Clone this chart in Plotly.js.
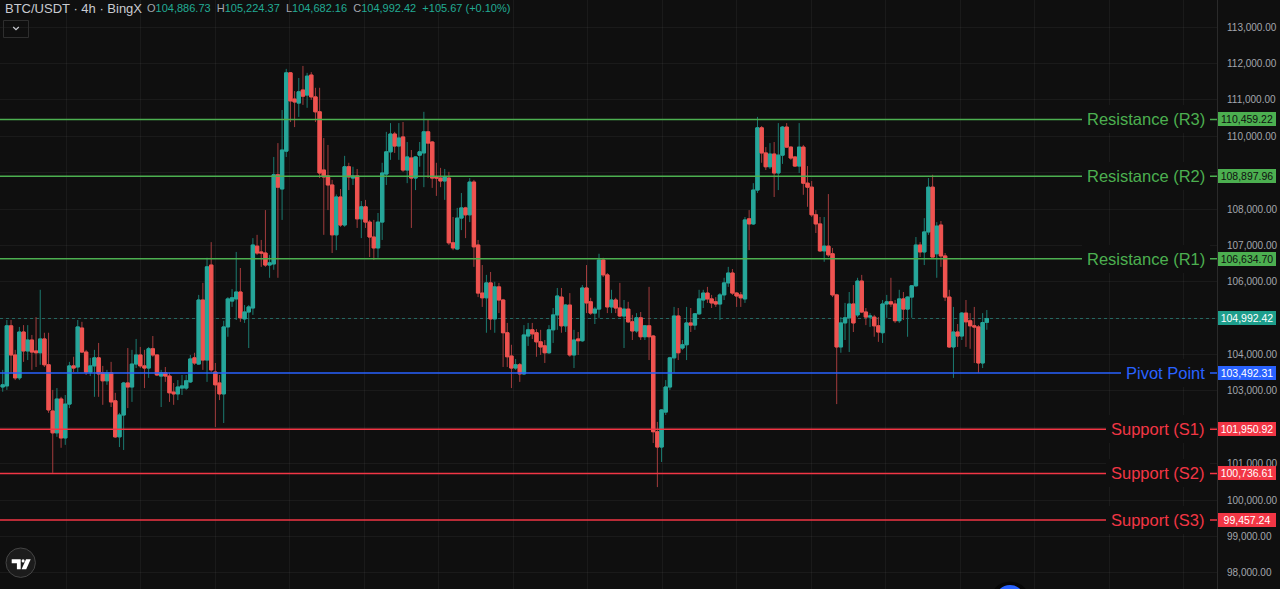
<!DOCTYPE html>
<html><head><meta charset="utf-8">
<script src="https://cdn.plot.ly/plotly-3.0.1.min.js"></script>
<style>html,body{margin:0;padding:0;background:#0f0f0f;overflow:hidden}#chart{width:1280px;height:589px}</style>
</head><body><div id="chart"></div>
<script>
// ---- data (BTC/USDT 4h candles) ----
const openP = [
103110,103140,104790,103990,103360,104620,104100,104400,104100,104050,
104430,103720,102450,101850,102780,101710,102640,103690,103660,104730,
104070,103520,103690,103910,103500,103280,103500,102730,101740,102340,
103220,103110,103740,103990,103690,103630,104160,103990,103410,103500,
103410,102970,102920,103080,103080,103250,103910,103740,105500,103850,
106460,103520,103220,102920,104760,105470,105530,105720,104980,105170,
105280,106980,106820,106790,106460,106490,108940,108550,109590,111740,
111020,110910,111270,111130,111680,111080,110670,109070,108910,108660,
107290,108330,107560,109160,108850,108910,107730,108060,107640,107230,
106930,107640,108960,109570,110060,109730,109980,109070,109400,108850,
109480,109540,110120,109840,108880,108850,108770,108850,107070,106900,
107750,108030,107840,108740,107010,105690,105560,105970,104980,105860,
105500,104600,103960,103630,103720,103470,104510,104680,104600,104350,
104240,104050,104680,105090,105580,104790,105360,103990,104430,104380,
105830,105450,105140,105250,106600,106190,105310,105500,105280,105060,
105250,104900,104650,105010,104490,104790,104510,101880,101460,102420,
103110,103910,105060,104180,104270,104870,104810,105120,105500,105690,
105530,105450,105390,105640,105970,106240,105690,105640,105530,107730,
107590,108520,110230,109540,109160,109510,108990,109480,110250,109700,
109430,109180,109700,108710,108600,107840,107590,106850,106980,106770,
105640,104210,104870,105010,105390,105090,106020,105170,105030,105030,
104790,104600,105390,105450,105390,104930,105530,105250,105580,105890,
107010,106820,107370,108600,106770,107560,106710,105580,104210,104620,
104510,105140,104930,104790,104760,103770,104886.73];
const highP = [
103580,104950,104950,104130,104760,104810,104810,104540,105030,105780,
104600,104600,103030,103080,102840,102890,103800,103940,104950,104900,
104130,103910,104130,104320,103690,103580,103800,102950,102400,103250,
104180,104130,104430,104210,104130,104210,104510,104000,103580,103660,
103500,103220,103300,103440,103440,103990,104050,105640,105970,106660,
107090,103770,103440,104930,105580,105800,106820,106380,105360,105360,
107200,107290,107150,107970,106740,109430,109810,110720,111850,111760,
111240,111600,111930,111740,111760,111330,111330,109950,109760,108800,
108400,108550,109460,109270,109160,109100,108220,108250,107700,107700,
107890,109270,110120,110360,110120,110360,110390,109840,109620,109450,
109840,110670,110450,109870,109270,109130,109100,109020,107780,108030,
108440,108060,108850,108800,107150,106460,106190,106270,106000,105970,
105530,104870,104270,103880,103770,104810,104870,104870,104700,104680,
104400,104810,105280,105830,105830,105390,105690,104680,104620,105910,
106460,105560,105310,106770,106660,106240,105780,105560,105970,105500,
105450,105090,105140,105170,104800,105860,104540,102150,102500,103300,
103940,105310,105280,104400,105310,105280,105140,105780,105780,105860,
105640,105580,105690,106110,106410,106350,105720,105720,107780,107970,
108710,110530,110280,109700,109810,109840,110360,110280,110360,109720,
109440,110360,109760,109180,108770,107970,107780,107780,108410,106930,
105670,105030,105420,105720,105910,106110,106190,105280,105140,105090,
105030,105500,105640,106110,105500,105780,105720,105600,105910,107230,
107090,107750,108850,108940,107640,107670,106790,105780,105310,104840,
105170,105500,105140,105310,104810,105140,105224.37];
const lowP = [
102980,103030,103500,103300,103300,103800,103850,103580,103660,103720,
103660,102400,100750,101740,101440,101520,102530,103520,103520,104040,
103440,103410,102840,102840,102620,103170,102560,101710,101460,101380,
102530,102700,103630,103630,103080,103360,103940,103410,102560,103250,
102700,102620,102750,102890,103030,103220,103720,103720,103580,103250,
103520,102010,102750,102120,104490,105310,104950,104900,104870,104180,
105090,106740,106410,106410,106110,106330,106110,107700,109430,110390,
110250,110530,110860,110780,111000,110390,108850,107290,107970,106790,
106870,107510,107510,108520,108660,107480,107200,107480,106680,106600,
106660,107150,108660,109350,109540,109350,109020,108710,107480,108520,
109160,108600,108850,108580,108360,108600,108250,107010,106870,106870,
107420,107200,107640,106410,105580,105310,104600,104680,104600,105140,
103660,103660,103080,103580,103250,103440,104240,104430,103940,103990,
103770,104020,104320,104680,104600,104620,103940,103630,103990,104350,
105140,105090,104840,105010,106130,105140,105140,105140,105030,104180,
104870,104400,104600,104400,104400,103850,101570,100360,101050,102340,
103030,103500,103850,104130,103850,104620,104680,105090,105280,105420,
105280,105310,104950,105500,105860,105640,105310,105310,105420,106870,
107560,108440,109270,109070,109100,108330,108520,109240,109680,109350,
109160,108990,108390,108060,107780,107340,106820,106550,106680,105580,
102640,104050,104400,104070,104620,105030,105140,104810,104760,104490,
104350,104320,105010,105310,104870,104870,104950,104490,105010,105860,
106680,106460,107290,106680,106110,106410,105470,104180,103360,104210,
104400,104210,104160,103770,103500,103630,104682.16];
const closeP = [
103170,104790,103990,103360,104620,104100,104400,104070,104050,104430,
103720,102480,101850,102780,101710,102640,103690,103630,104760,104070,
103520,103690,103910,103470,103280,103500,102700,101740,102340,103220,
103110,103740,103990,103690,103630,104160,103990,103440,103500,103410,
102950,102920,103110,103140,103280,103880,103770,105500,103850,106410,
103580,103170,102920,104760,105530,105560,105720,105010,105170,105310,
107010,106790,106790,106460,106520,108940,108600,109620,111740,110970,
110940,111220,111100,111650,111080,110670,108990,108880,108660,107290,
108330,107560,109160,108880,108910,107730,108060,107640,107230,106930,
107640,108990,109570,110060,109730,109950,109070,109430,108850,109430,
109570,110120,109810,108850,108850,108770,108880,107070,106930,107750,
108030,107840,108740,106960,105690,105560,105970,104980,105860,105500,
104600,103940,103630,103720,103470,104540,104680,104570,104350,104210,
104050,104680,105090,105610,104790,105360,103990,104400,104380,105830,
105420,105140,105250,106600,106190,105310,105500,105280,105060,105250,
104900,104650,105010,104490,104790,104490,101880,101460,102480,103110,
103910,105060,104050,104270,104870,104810,105120,105530,105690,105530,
105420,105390,105640,105970,106240,105690,105610,105560,107700,107590,
108520,110230,109540,109160,109510,108990,109480,110250,109700,109400,
109180,109700,108710,108600,107840,107590,106850,106980,106740,105640,
104210,104870,105010,105390,104870,106020,105170,105030,105060,104790,
104620,105390,105450,105390,104930,105530,105250,105580,105890,107010,
106820,107370,108600,106680,107530,106710,105580,104210,104620,104510,
105140,104900,104790,104760,103770,104880,104992.42];

// price-scale ticks (labels hidden behind the level boxes are left blank)
const tickVals   = [98000,99000,100000,101000,102000,103000,104000,105000,106000,107000,108000,109000,110000,111000,112000,113000];
const tickLabels = ["98,000.00","99,000.00","100,000.00","101,000.00","","103,000.00","104,000.00","","106,000.00","107,000.00","108,000.00","","110,000.00","111,000.00","112,000.00","113,000.00"];

const levelNames  = ["Resistance (R3)","Resistance (R2)","Resistance (R1)","Pivot Point","Support (S1)","Support (S2)","Support (S3)"];
const levelValues = [110459.22, 108897.96, 106634.70, 103492.31, 101950.92, 100736.61, 99457.24];
const levelKinds  = ["r","r","r","p","s","s","s"];
const lastPrice = 104992.42;
const headerTitle = "BTC/USDT · 4h · BingX";
const ohlcLetters = ["O","H","L","C"];
const ohlcValues = [104886.73, 105224.37, 104682.16, 104992.42];
const changeAbs = 105.67, changePct = 0.10;

// ---- styling ----
const BG = "#0f0f0f";
const UP = "#26a69a", DOWN = "#ef5350";
const UPW = "#1b7a70", DOWNW = "#a23c3d";
const KC = {r:"#4caf50", p:"#2962ff", s:"#f23645"};
const KT = {r:"#0f0f0f", p:"#ffffff", s:"#ffffff"};
const FONT = "Liberation Sans, Arial, sans-serif";
const PW = 1217, PH = 589;
const px = x => x / PW, py = y => 1 - y / PH;
const fmt = v => v.toLocaleString("en-US",{minimumFractionDigits:2, maximumFractionDigits:2});

const xs = openP.map((_, i) => i + 1);
const bodyHi = openP.map((o, i) => Math.max(o, closeP[i]));
const bodyLo = openP.map((o, i) => Math.min(o, closeP[i]));

const wicks = {
  type:"candlestick", x:xs, open:openP, high:highP, low:lowP, close:closeP,
  increasing:{line:{color:UPW,width:1}, fillcolor:UPW},
  decreasing:{line:{color:DOWNW,width:1}, fillcolor:DOWNW},
  whiskerwidth:0, hoverinfo:"skip", showlegend:false
};
const bodies = {
  type:"candlestick", x:xs, open:openP, high:bodyHi, low:bodyLo, close:closeP,
  increasing:{line:{color:UP,width:1}, fillcolor:UP},
  decreasing:{line:{color:DOWN,width:1}, fillcolor:DOWN},
  whiskerwidth:0, hoverinfo:"skip", showlegend:false
};

const shapes = [];
const annotations = [];

// current price dotted line
shapes.push({type:"line", xref:"paper", x0:0, x1:1, yref:"y", y0:lastPrice, y1:lastPrice,
  line:{color:"rgba(38,166,154,0.55)", width:1, dash:"dot"}, layer:"below"});

levelValues.forEach((v, i) => {
  const c = KC[levelKinds[i]];
  shapes.push({type:"line", xref:"paper", x0:0, x1:1, yref:"y", y0:v, y1:v,
    line:{color:c, width:1.5}, layer:"above"});
  annotations.push({xref:"paper", x:px(1210), xanchor:"right", yref:"y", y:v, yanchor:"middle",
    text:levelNames[i], showarrow:false, font:{family:FONT, size:16.5, color:c},
    bgcolor:BG, borderpad:5, borderwidth:0});
  annotations.push({xref:"paper", x:1, xanchor:"left", xshift:1, yref:"y", y:v, yanchor:"middle",
    text:fmt(v), showarrow:false, font:{family:FONT, size:10.5, color:KT[levelKinds[i]]},
    bgcolor:c, width:56, height:12, borderpad:1, borderwidth:0, align:"center"});
});
annotations.push({xref:"paper", x:1, xanchor:"left", xshift:1, yref:"y", y:lastPrice, yanchor:"middle",
  text:fmt(lastPrice), showarrow:false, font:{family:FONT, size:10.5, color:"#ffffff"},
  bgcolor:"#1e9e8c", width:56, height:12, borderpad:1, borderwidth:0, align:"center"});

// header
annotations.push({xref:"paper", yref:"paper", x:px(3), y:py(8.5), xanchor:"left", yanchor:"middle",
  text:headerTitle, showarrow:false, font:{family:FONT, size:13, color:"#c9cbd1"}});
const teal = "#22ab94";
let ohlcText = ohlcLetters.map((l, i) =>
  `<span style="color:#a6a8ae">${l}</span><span style="color:${teal}">${fmt(ohlcValues[i])}</span>`).join("&nbsp;&nbsp;");
ohlcText += `&nbsp;&nbsp;<span style="color:${teal}">+${fmt(changeAbs)} (+${fmt(changePct)}%)</span>`;
annotations.push({xref:"paper", yref:"paper", x:px(145), y:py(8.5), xanchor:"left", yanchor:"middle",
  text:ohlcText, showarrow:false, font:{family:FONT, size:11, color:teal}});

// dropdown button
shapes.push({type:"rect", xref:"paper", yref:"paper", x0:px(3.5), x1:px(28.5), y0:py(20.5), y1:py(37.5),
  line:{color:"#2e2e2e", width:1}, fillcolor:"rgba(0,0,0,0)", layer:"above"});
shapes.push({type:"path", xref:"paper", yref:"paper",
  path:`M ${px(13.2)} ${py(27)} L ${px(16)} ${py(29.6)} L ${px(18.8)} ${py(27)}`,
  line:{color:"#c9cbd1", width:1.2}, layer:"above"});

// TradingView logo
shapes.push({type:"circle", xref:"paper", yref:"paper", x0:px(6), x1:px(35.4), y0:py(548), y1:py(577.4),
  fillcolor:"#1c1c1c", line:{color:"#454545", width:1}, layer:"above"});
shapes.push({type:"path", xref:"paper", yref:"paper",
  path:`M ${px(11.7)} ${py(559.3)} L ${px(20.7)} ${py(559.3)} L ${px(20.7)} ${py(569.3)} L ${px(16.9)} ${py(569.3)} L ${px(16.9)} ${py(563.2)} L ${px(11.7)} ${py(563.2)} Z`,
  fillcolor:"#ffffff", line:{width:0}, layer:"above"});
shapes.push({type:"circle", xref:"paper", yref:"paper", x0:px(21.6), x1:px(24.6), y0:py(559.3), y1:py(562.5),
  fillcolor:"#ffffff", line:{width:0}, layer:"above"});
shapes.push({type:"path", xref:"paper", yref:"paper",
  path:`M ${px(26)} ${py(559.3)} L ${px(30.7)} ${py(559.3)} L ${px(26.2)} ${py(569.3)} L ${px(21.6)} ${py(569.3)} Z`,
  fillcolor:"#ffffff", line:{width:0}, layer:"above"});

// partial blue widget circle at bottom
shapes.push({type:"circle", xref:"paper", yref:"paper", x0:px(990), x1:px(1030), y0:py(581.5), y1:py(621.5),
  fillcolor:"#060606", line:{width:0}, layer:"above"});
shapes.push({type:"circle", xref:"paper", yref:"paper", x0:px(995), x1:px(1025), y0:py(585), y1:py(615),
  fillcolor:"#2962ff", line:{width:0}, layer:"above"});

const layout = {
  width:1280, height:589,
  margin:{l:0, r:63, t:0, b:0, pad:0},
  paper_bgcolor:BG, plot_bgcolor:BG,
  showlegend:false,
  boxgap:0.2, boxgroupgap:0,
  xaxis:{range:[0.3525, 292.2], showticklabels:false, ticks:"", showgrid:true,
    gridcolor:"rgba(242,242,242,0.05)", tick0:16.2, dtick:17.87, zeroline:false, showline:false,
    rangeslider:{visible:false}, fixedrange:true},
  yaxis:{side:"right", range:[97560, 113742], tickmode:"array", tickvals:tickVals, ticktext:tickLabels,
    tickfont:{family:FONT, size:10, color:"#a3a6ad"}, ticks:"", ticklabelstandoff:7,
    showgrid:true, gridcolor:"rgba(242,242,242,0.05)", zeroline:false,
    showline:true, linecolor:"#2a2a2a", linewidth:1, fixedrange:true},
  shapes:shapes, annotations:annotations
};

Plotly.newPlot("chart", [wicks, bodies], layout, {displayModeBar:false, staticPlot:true});
</script>
</body></html>
